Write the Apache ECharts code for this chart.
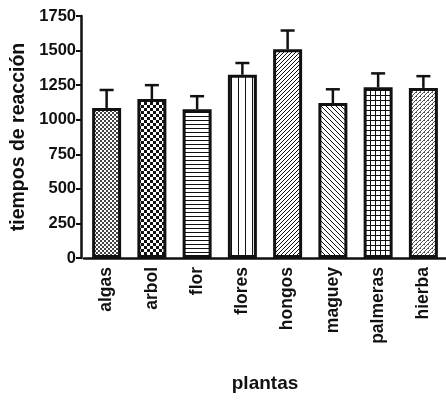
<!DOCTYPE html>
<html><head><meta charset="utf-8">
<script src="https://cdn.jsdelivr.net/npm/echarts@6/dist/echarts.min.js"></script>
<style>html,body{margin:0;padding:0;background:#fff}#c{width:446px;height:400px}</style>
</head><body><div id="c"></div>
<script>
const categories = ['algas','arbol','flor','flores','hongos','maguey','palmeras','hierba'];
const means = [1085, 1150, 1075, 1325, 1510, 1120, 1235, 1230];
const errors = [130, 100, 95, 85, 135, 100, 100, 85];
const yTicks = [0, 250, 500, 750, 1000, 1250, 1500, 1750];

function pat(w, h, draw) {
  const c = document.createElement('canvas'); c.width = w; c.height = h;
  const g = c.getContext('2d'); g.fillStyle = '#fff'; g.fillRect(0,0,w,h);
  g.fillStyle = '#111'; g.strokeStyle = '#111'; draw(g, w, h);
  return {image: c, repeat: 'repeat'};
}
const patterns = [
  pat(4,4,(g)=>{g.fillStyle='#444';g.fillRect(0,0,2,2);g.fillRect(2,2,2,2);}),
  pat(6,6,(g)=>{g.fillRect(0,0,3,3);g.fillRect(3,3,3,3);}),
  pat(4,4,(g)=>{g.fillRect(0,0,4,1);}),
  pat(7,4,(g)=>{g.fillRect(0,0,1,4);}),
  pat(4,4,(g)=>{g.lineWidth=1;g.beginPath();g.moveTo(-1,5);g.lineTo(5,-1);g.moveTo(-1,1);g.lineTo(1,-1);g.moveTo(3,5);g.lineTo(5,3);g.stroke();}),
  pat(5,5,(g)=>{g.lineWidth=1;g.beginPath();g.moveTo(-1,-1);g.lineTo(6,6);g.moveTo(4,-1);g.lineTo(6,1);g.moveTo(-1,4);g.lineTo(1,6);g.stroke();}),
  pat(5,5,(g)=>{g.fillRect(0,0,5,1);g.fillRect(0,0,1,5);}),
  pat(4,4,(g)=>{g.fillStyle='#555';g.fillRect(0,3,1,1);g.fillRect(1,2,1,1);g.fillRect(2,1,1,1);g.fillRect(3,0,1,1);g.fillRect(0,0,1,1);})
];

const font = "'Liberation Sans', Arial, sans-serif";
const chart = echarts.init(document.getElementById('c'));
chart.setOption({
  animation: false,
  backgroundColor: '#fff',
  grid: {left: 84, right: 0, top: 16, bottom: 142},
  xAxis: {
    type: 'category', data: categories,
    name: 'plantas', nameLocation: 'middle', nameGap: 116,
    nameTextStyle: {fontFamily: font, fontWeight: 'bold', fontSize: 19, color: '#111'},
    axisLine: {lineStyle: {color: '#111', width: 2.5}},
    axisTick: {alignWithLabel: true, length: 6, lineStyle: {color: '#111', width: 2}},
    axisLabel: {rotate: 90, fontFamily: font, fontWeight: 'bold', fontSize: 17.5, color: '#111', margin: 9}
  },
  yAxis: {
    type: 'value', min: 0, max: 1750, interval: 250, offset: 3,
    name: 'tiempos de reacción', nameLocation: 'middle', nameGap: 52,
    nameTextStyle: {fontFamily: font, fontWeight: 'bold', fontSize: 19.5, color: '#111'},
    axisLine: {show: true, lineStyle: {color: '#111', width: 2.5}},
    axisTick: {show: true, length: 5, lineStyle: {color: '#111', width: 2}},
    axisLabel: {fontFamily: font, fontWeight: 'bold', fontSize: 16.5, color: '#111', margin: 5,
      formatter: v => yTicks.includes(v) ? String(v) : ''},
    splitLine: {show: false}
  },
  series: [
    {
      type: 'bar', barWidth: 29,
      data: means.map((v, i) => ({value: v, itemStyle: {color: patterns[i]}})),
      itemStyle: {borderColor: '#111', borderWidth: 3}
    },
    {
      type: 'custom', z: 1,
      data: means.map((v, i) => [i, v, v + errors[i]]),
      renderItem: (params, api) => {
        const b = api.coord([api.value(0), api.value(1)]);
        const t = api.coord([api.value(0), api.value(2)]);
        const hw = 7;
        return {type: 'group', children: [
          {type: 'line', shape: {x1: b[0], y1: b[1], x2: t[0], y2: t[1]}, style: {stroke: '#111', lineWidth: 2.5}},
          {type: 'line', shape: {x1: t[0]-hw, y1: t[1], x2: t[0]+hw, y2: t[1]}, style: {stroke: '#111', lineWidth: 2.5}}
        ]};
      }
    }
  ]
});
</script></body></html>
